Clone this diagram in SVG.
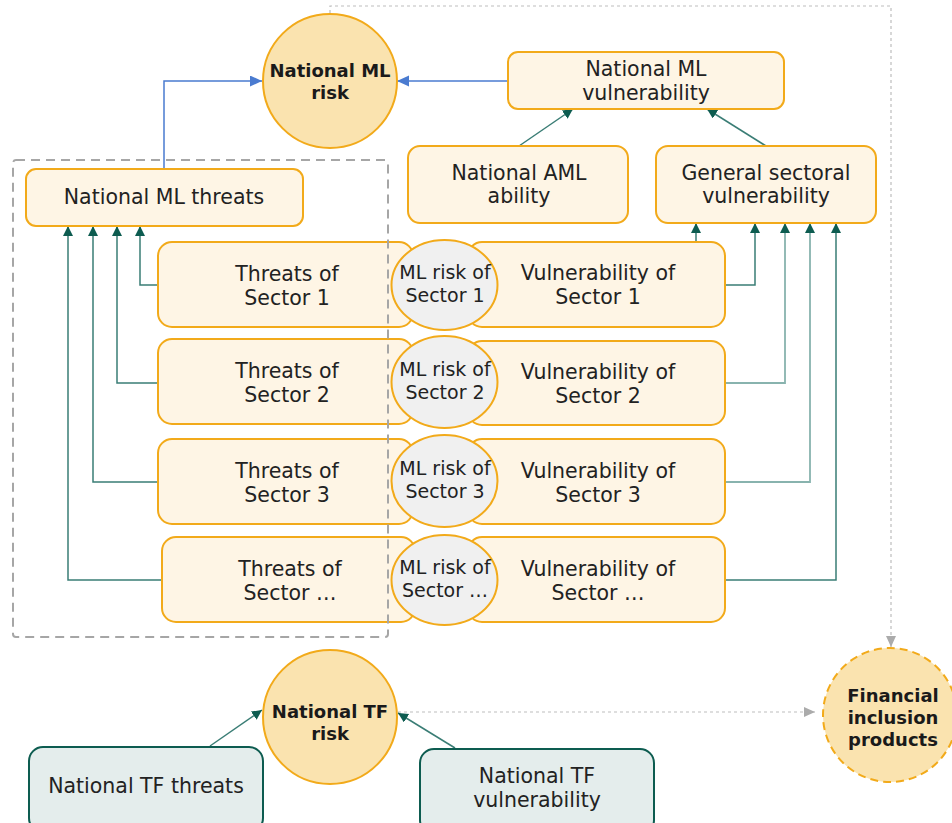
<svg xmlns="http://www.w3.org/2000/svg" width="952" height="823" viewBox="0 0 952 823">
<style>
text{font-family:"DejaVu Sans","Verdana",sans-serif;fill:#222;text-anchor:middle}
.t{font-size:20.5px}
.s{font-size:19px}
.b{font-size:18px;font-weight:bold;fill:#1a1a1a}
.box{fill:#FEF5E5;stroke:#F2AA1A;stroke-width:2}
.risk{fill:#FAE3AF;stroke:#F2AA1A;stroke-width:2}
.ell{fill:#F0F0F0;stroke:#F2AA1A;stroke-width:2}
.tf{fill:#E4EDEC;stroke:#0D5C50;stroke-width:2}
.g{fill:none;stroke:#3A7D75;stroke-width:1.5}
.gl{fill:none;stroke:#88B3AE;stroke-width:1.8}
.bl{fill:none;stroke:#4A7BD0;stroke-width:1.5}
.dt{fill:none;stroke:#BDBDBD;stroke-width:1.2;stroke-dasharray:3,3}
</style>
<defs>
<marker id="ag" markerUnits="userSpaceOnUse" markerWidth="12" markerHeight="12" refX="10" refY="5" orient="auto"><path d="M0,0 L10,5 L0,10 z" fill="#0D5C50"/></marker>
<marker id="ab" markerUnits="userSpaceOnUse" markerWidth="13" markerHeight="12" refX="12" refY="5.5" orient="auto"><path d="M0,0 L12,5.5 L0,11 z" fill="#4A7BD0"/></marker>
<marker id="ay" markerUnits="userSpaceOnUse" markerWidth="13" markerHeight="12" refX="11" refY="5" orient="auto"><path d="M0,0 L11,5 L0,10 z" fill="#ABABAB"/></marker>
</defs>
<g id="connectors">
<path class="dt" d="M330,13 V6 H891 V647" marker-end="url(#ay)"/>
<path class="dt" d="M398,712 H815" marker-end="url(#ay)"/>
<path class="bl" d="M164,169 V81 H262" marker-end="url(#ab)"/>
<path class="bl" d="M508,81 H397" marker-end="url(#ab)"/>
<path class="g" d="M519,146 L573,109" marker-end="url(#ag)"/>
<path class="g" d="M766,146 L707,109" marker-end="url(#ag)"/>
<path class="g" d="M158,285 H140 V226" marker-end="url(#ag)"/>
<path class="g" d="M158,383 H117 V226" marker-end="url(#ag)"/>
<path class="g" d="M158,482 H93 V226" marker-end="url(#ag)"/>
<path class="g" d="M162,580 H68 V226" marker-end="url(#ag)"/>
<path class="g" d="M696,242 V223" marker-end="url(#ag)"/>
<path class="g" d="M725,285 H755 V223" marker-end="url(#ag)"/>
<path class="gl" d="M725,383 H785 V223" marker-end="url(#ag)"/>
<path class="gl" d="M725,482 H810 V223" marker-end="url(#ag)"/>
<path class="g" d="M725,580 H836 V223" marker-end="url(#ag)"/>
<path class="g" d="M210,746 L262,710" marker-end="url(#ag)"/>
<path class="g" d="M455,748 L398,713" marker-end="url(#ag)"/>
</g>
<g id="ml-risk"><circle class="risk" cx="330" cy="81" r="67"/><text class="b" x="330" y="77">National ML</text><text class="b" x="330" y="99">risk</text></g>
<g id="ml-vulnerability"><rect class="box" x="508" y="52" width="276" height="57" rx="10"/><text class="t" x="646" y="76">National ML</text><text class="t" x="646" y="100">vulnerability</text></g>
<g id="aml-ability"><rect class="box" x="408" y="146" width="220" height="77" rx="12"/><text class="t" x="519" y="180">National AML</text><text class="t" x="519" y="203">ability</text></g>
<g id="general-sectoral"><rect class="box" x="656" y="146" width="220" height="77" rx="12"/><text class="t" x="766" y="180">General sectoral</text><text class="t" x="766" y="203">vulnerability</text></g>
<g id="ml-threats"><rect class="box" x="26" y="169" width="277" height="57" rx="10"/><text class="t" x="164" y="204">National ML threats</text></g>
<g id="threats-1"><rect class="box" x="158" y="242" width="255" height="85" rx="14"/><text class="t" x="287" y="281">Threats of</text><text class="t" x="287" y="305">Sector 1</text></g>
<g id="threats-2"><rect class="box" x="158" y="339" width="255" height="85" rx="14"/><text class="t" x="287" y="378">Threats of</text><text class="t" x="287" y="402">Sector 2</text></g>
<g id="threats-3"><rect class="box" x="158" y="439" width="255" height="85" rx="14"/><text class="t" x="287" y="478">Threats of</text><text class="t" x="287" y="502">Sector 3</text></g>
<g id="threats-n"><rect class="box" x="162" y="537" width="253" height="85" rx="14"/><text class="t" x="290" y="576">Threats of</text><text class="t" x="290" y="600">Sector …</text></g>
<g id="vuln-1"><rect class="box" x="468" y="242" width="257" height="85" rx="14"/><text class="t" x="598" y="280">Vulnerability of</text><text class="t" x="598" y="304">Sector 1</text></g>
<g id="vuln-2"><rect class="box" x="468" y="341" width="257" height="84" rx="14"/><text class="t" x="598" y="379">Vulnerability of</text><text class="t" x="598" y="403">Sector 2</text></g>
<g id="vuln-3"><rect class="box" x="468" y="439" width="257" height="85" rx="14"/><text class="t" x="598" y="478">Vulnerability of</text><text class="t" x="598" y="502">Sector 3</text></g>
<g id="vuln-n"><rect class="box" x="468" y="537" width="257" height="85" rx="14"/><text class="t" x="598" y="576">Vulnerability of</text><text class="t" x="598" y="600">Sector …</text></g>
<g id="risk-1"><ellipse class="ell" cx="444.5" cy="285" rx="53" ry="45"/><text class="s" x="445" y="279">ML risk of</text><text class="s" x="445" y="302">Sector 1</text></g>
<g id="risk-2"><ellipse class="ell" cx="444.5" cy="382" rx="53" ry="46"/><text class="s" x="445" y="376">ML risk of</text><text class="s" x="445" y="399">Sector 2</text></g>
<g id="risk-3"><ellipse class="ell" cx="444.5" cy="481" rx="53" ry="46"/><text class="s" x="445" y="475">ML risk of</text><text class="s" x="445" y="498">Sector 3</text></g>
<g id="risk-n"><ellipse class="ell" cx="444.5" cy="580" rx="53" ry="45"/><text class="s" x="445" y="574">ML risk of</text><text class="s" x="445" y="597">Sector …</text></g>
<g id="threats-group"><rect x="13" y="160" width="375" height="477" rx="3" fill="none" stroke="#A6A6A6" stroke-width="2" stroke-dasharray="9,6"/></g>
<g id="tf-risk"><circle class="risk" cx="330" cy="717" r="67"/><text class="b" x="330" y="718">National TF</text><text class="b" x="330" y="740">risk</text></g>
<g id="tf-threats"><rect class="tf" x="29" y="747" width="234" height="85" rx="14"/><text class="t" x="146" y="793">National TF threats</text></g>
<g id="tf-vulnerability"><rect class="tf" x="420" y="749" width="234" height="85" rx="14"/><text class="t" x="537" y="783">National TF</text><text class="t" x="537" y="807">vulnerability</text></g>
<g id="financial-inclusion"><circle cx="890" cy="715" r="67" fill="#FAE3AF" stroke="#F2AA1A" stroke-width="2" stroke-dasharray="8,5"/><text class="b" x="893" y="702">Financial</text><text class="b" x="893" y="724">inclusion</text><text class="b" x="893" y="746">products</text></g>
</svg>
